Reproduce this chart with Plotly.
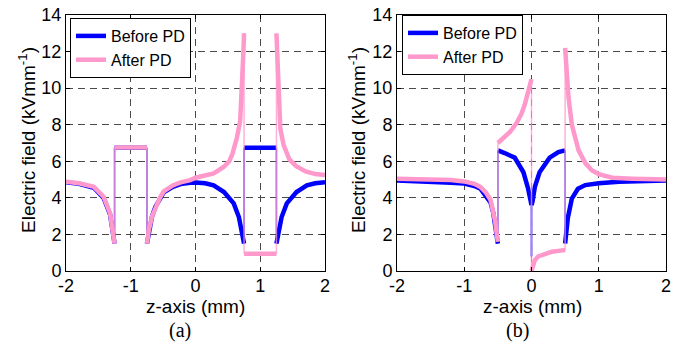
import plotly.graph_objects as go

# ---------------- data ----------------
# Panel (a)
A_BLUE_X = [-2, -1.8, -1.57, -1.42, -1.32, -1.28, -1.25, -1.25, -0.75, -0.75, -0.72, -0.67, -0.62,
            -0.55, -0.49, -0.35, -0.23, -0.08, 0, 0.15, 0.28, 0.44, 0.52, 0.59, 0.67, 0.71, 0.75,
            0.75, 1.25, 1.25, 1.29, 1.33, 1.41, 1.48, 1.56, 1.72, 1.85, 2.0]
A_BLUE_Y = [4.85, 4.77, 4.55, 4.0, 3.1, 2.2, 1.5, 6.74, 6.74, 1.5, 2.2, 3.0, 3.5,
            4.0, 4.3, 4.6, 4.75, 4.82, 4.84, 4.8, 4.68, 4.32, 4.0, 3.7, 2.95, 2.22, 1.5,
            6.74, 6.74, 1.5, 2.22, 2.95, 3.7, 4.0, 4.32, 4.68, 4.8, 4.85]
A_PINK_X = [-2, -1.8, -1.57, -1.42, -1.32, -1.28, -1.25, -1.25, -0.75, -0.75, -0.72, -0.67, -0.62,
            -0.55, -0.49, -0.35, -0.23, -0.08, 0, 0.15, 0.28, 0.44, 0.52, 0.57, 0.64, 0.69, 0.72,
            0.74, 0.75, 0.75, 1.25, 1.25, 1.26, 1.28, 1.31, 1.36, 1.45, 1.55, 1.7, 1.85, 2.0]
A_PINK_Y = [4.88, 4.8, 4.6, 4.06, 3.15, 2.24, 1.5, 6.76, 6.76, 1.5, 2.24, 3.0, 3.45,
            4.0, 4.35, 4.68, 4.85, 4.97, 5.1, 5.2, 5.34, 5.7, 6.0, 6.4, 7.3, 8.2, 10.0,
            12.0, 13.0, 0.95, 0.95, 13.0, 12.0, 10.0, 7.8, 6.9, 6.1, 5.75, 5.45, 5.3, 5.25]

# Panel (b)
B_BLUE_X = [-2, -1.5, -1.2, -1.0, -0.85, -0.76, -0.68, -0.61, -0.57, -0.54, -0.52, -0.5,
            -0.5, -0.48, -0.4, -0.25, -0.12, -0.05, -0.015, 0, 0, 0,
            0.015, 0.05, 0.12, 0.27, 0.4, 0.5,
            0.5, 0.51, 0.54, 0.6, 0.69, 0.8, 1.0, 1.3, 2.0]
B_BLUE_Y = [4.95, 4.9, 4.82, 4.78, 4.65, 4.5, 4.15, 3.75, 3.2, 2.6, 2.0, 1.5,
            6.6, 6.58, 6.45, 6.2, 5.4, 4.5, 3.8, 3.6, 0.8, 3.6,
            3.8, 4.6, 5.4, 6.2, 6.5, 6.6,
            1.5, 2.0, 2.9, 3.96, 4.5, 4.7, 4.8, 4.88, 4.95]
B_PINK_X = [-2, -1.5, -1.2, -1.0, -0.85, -0.76, -0.68, -0.61, -0.57, -0.54, -0.52, -0.5,
            -0.5, -0.45, -0.4, -0.32, -0.22, -0.15, -0.1, -0.05, -0.02, 0,
            0, 0.02, 0.05, 0.1, 0.2, 0.3, 0.4, 0.5,
            0.5, 0.52, 0.55, 0.6, 0.65, 0.7, 0.8, 0.9, 1.0, 1.2, 1.5, 2.0]
B_PINK_Y = [5.05, 5.02, 4.97, 4.9, 4.77, 4.6, 4.3, 3.9, 3.3, 2.7, 2.1, 1.6,
            7.0, 7.15, 7.3, 7.6, 8.1, 8.6, 9.1, 9.7, 10.2, 10.5,
            0.0, 0.35, 0.6, 0.8, 0.95, 1.05, 1.1, 1.15,
            12.2, 11.0, 9.5, 8.0, 7.2, 6.6, 5.9, 5.5, 5.3, 5.1, 5.05, 5.0]

SERIES_NAMES = ["Before PD", "After PD"]
X_TICKS = [-2, -1, 0, 1, 2]
X_TICKTEXT = ["-2", "-1", "0", "1", "2"]
Y_TICKS = [0, 2, 4, 6, 8, 10, 12, 14]
PANEL_LABELS = ["(a)", "(b)"]

# ---------------- styling ----------------
BLUE = "#0000ff"
PINK = "#ff99cc"
SANS = "Liberation Sans, Arial, sans-serif"
SERIF = "Liberation Serif, Times New Roman, serif"
W, H = 691, 345


def split(xs, ys):
    """Separate a series into smooth runs (thick) and vertical jumps (thin)."""
    tx, ty, vx, vy = [], [], [], []
    run_x, run_y = [xs[0]], [ys[0]]
    for i in range(1, len(xs)):
        if xs[i] == xs[i - 1]:
            vx += [xs[i - 1], xs[i], None]
            vy += [ys[i - 1], ys[i], None]
            if len(run_x) > 1:
                tx += run_x + [None]
                ty += run_y + [None]
            run_x, run_y = [xs[i]], [ys[i]]
        else:
            run_x.append(xs[i])
            run_y.append(ys[i])
    if len(run_x) > 1:
        tx += run_x
        ty += run_y
    return tx, ty, vx, vy


fig = go.Figure()

panels = [
    ("x", "y", "legend", (A_BLUE_X, A_BLUE_Y), (A_PINK_X, A_PINK_Y)),
    ("x2", "y2", "legend2", (B_BLUE_X, B_BLUE_Y), (B_PINK_X, B_PINK_Y)),
]
for xa, ya, lg, blue, pink in panels:
    for (xs, ys), col, name, thin_op in ((blue, BLUE, SERIES_NAMES[0], 0.8),
                                        (pink, PINK, SERIES_NAMES[1], 0.75)):
        tx, ty, vx, vy = split(xs, ys)
        fig.add_trace(go.Scatter(x=vx, y=vy, mode="lines", xaxis=xa, yaxis=ya,
                                 line=dict(color=col, width=1.5), opacity=thin_op,
                                 showlegend=False, hoverinfo="skip"))
        fig.add_trace(go.Scatter(x=tx, y=ty, mode="lines", xaxis=xa, yaxis=ya,
                                 line=dict(color=col, width=4.5), name=name,
                                 legend=lg, showlegend=True))

Y0, Y1 = 15, 271
dom_y = [1 - Y1 / H, 1 - Y0 / H]
ax_common = dict(showline=True, linecolor="black", linewidth=1, mirror="ticks",
                 ticks="inside", ticklen=4, tickcolor="black", automargin=False,
                 showgrid=True, gridcolor="#4a4a4a", gridwidth=1, griddash="7px,5px",
                 zeroline=False, tickfont=dict(family=SANS, size=18, color="black"))

fig.update_layout(
    template="none",
    width=W, height=H,
    margin=dict(l=0, r=0, t=0, b=0, autoexpand=False),
    paper_bgcolor="white", plot_bgcolor="white",
    xaxis=dict(domain=[66 / W, 325 / W], range=[-2, 2], tickvals=X_TICKS,
               ticktext=X_TICKTEXT, anchor="y", **ax_common),
    yaxis=dict(domain=dom_y, range=[0, 14], tickvals=Y_TICKS, anchor="x", **ax_common),
    xaxis2=dict(domain=[397 / W, 666 / W], range=[-2, 2], tickvals=X_TICKS,
                ticktext=X_TICKTEXT, anchor="y2", **ax_common),
    yaxis2=dict(domain=dom_y, range=[0, 14], tickvals=Y_TICKS, anchor="x2", **ax_common),
    legend=dict(x=70 / W, y=1 - 18 / H, xanchor="left", yanchor="top",
                bgcolor="white", bordercolor="black", borderwidth=1,
                font=dict(family=SANS, size=16, color="black"),
                tracegroupgap=0, itemwidth=30),
    legend2=dict(x=402 / W, y=1 - 15 / H, xanchor="left", yanchor="top",
                 bgcolor="white", bordercolor="black", borderwidth=1,
                 font=dict(family=SANS, size=16, color="black"),
                 tracegroupgap=0, itemwidth=30),
    showlegend=True,
)
fig.update_xaxes(ticklabelstandoff=-2)

annos = []
for cx, label, ytx in ((195, PANEL_LABELS[0], 27), (532, PANEL_LABELS[1], 357)):
    annos.append(dict(x=cx / W, y=1 - 306 / H, xref="paper", yref="paper",
                      xanchor="center", yanchor="middle",
                      text="z-axis (mm)", showarrow=False,
                      font=dict(family=SANS, size=19, color="black")))
    annos.append(dict(x=(cx - 15) / W, y=1 - 330 / H, xref="paper", yref="paper",
                      xanchor="center", yanchor="middle",
                      text=label, showarrow=False,
                      font=dict(family=SERIF, size=20, color="black")))
    annos.append(dict(x=ytx / W, y=1 - 140 / H, xref="paper", yref="paper",
                      xanchor="center", yanchor="middle",
                      text="Electric field (kVmm<sup>-1</sup>)", textangle=-90,
                      showarrow=False, font=dict(family=SANS, size=19, color="black")))
fig.update_layout(annotations=annos)

fig.write_html("out.html", config={"displayModeBar": False},
               post_script="document.body.style.margin='0px';")
